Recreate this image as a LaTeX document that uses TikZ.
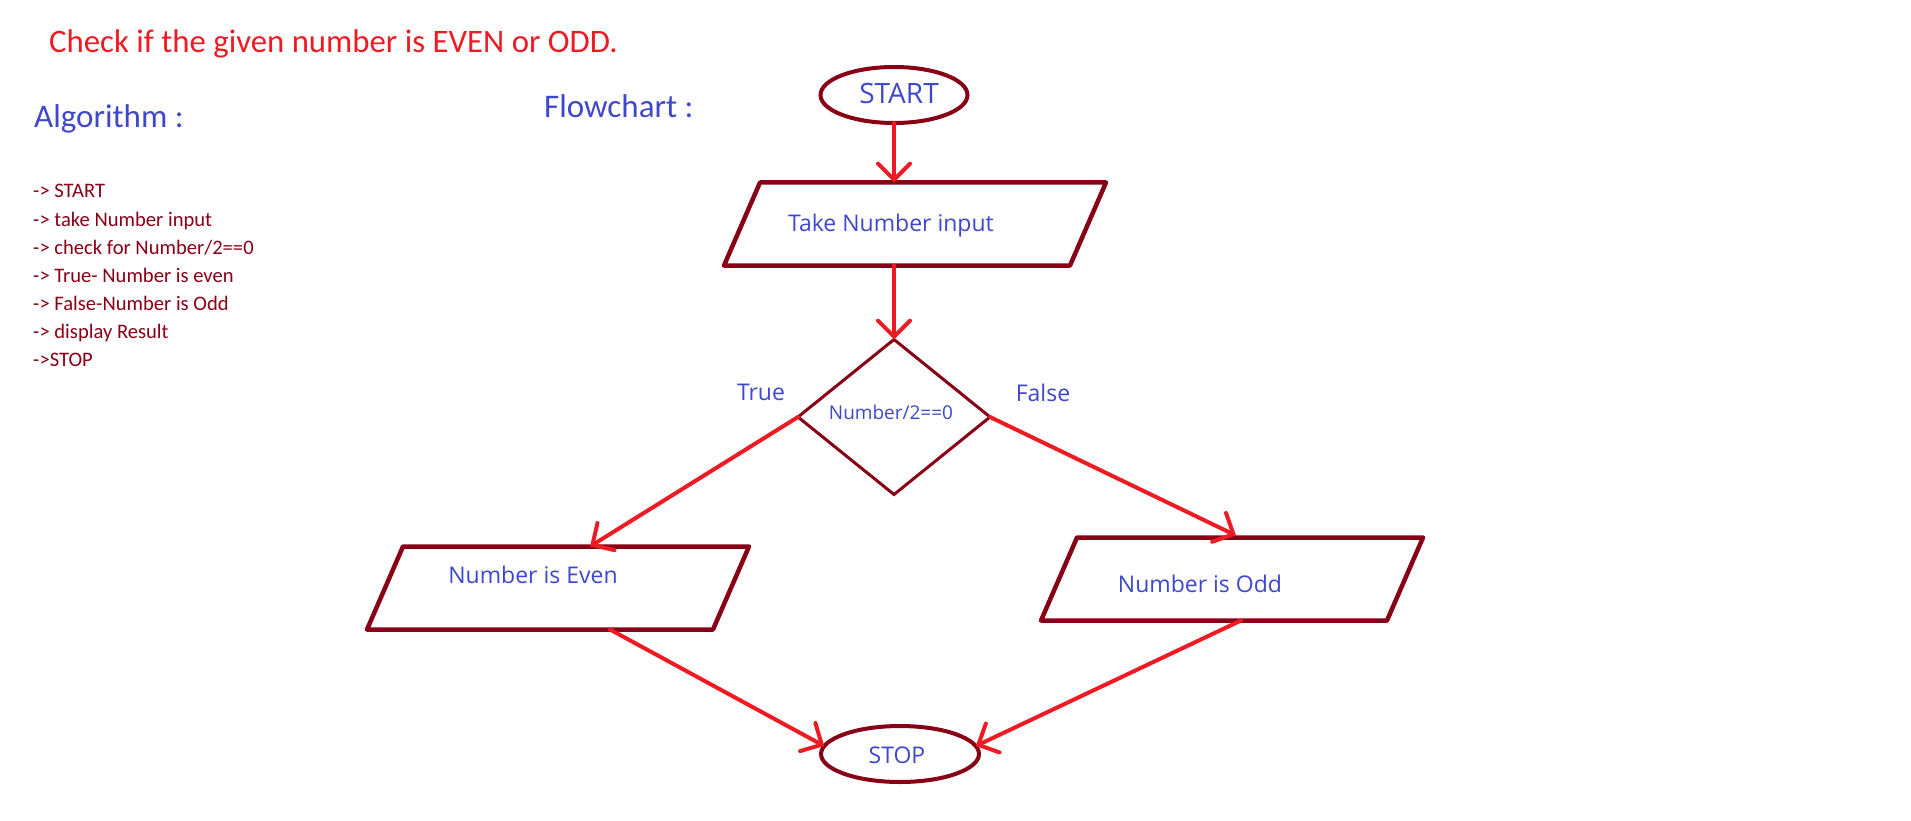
\documentclass[tikz,border=0pt]{standalone}
\usepackage{fontspec}
\setmainfont{Carlito}
\newfontfamily\shapefont{Open Sans}
\usetikzlibrary{shapes.geometric,arrows.meta,calc}
\definecolor{titlered}{RGB}{237,28,36}
\definecolor{shapered}{RGB}{136,0,21}
\definecolor{inkblue}{RGB}{63,72,204}
\begin{document}
\begin{tikzpicture}[x=1pt,y=-1pt,
  iobox/.style={rectangle, minimum width=346pt, minimum height=83pt,
    inner sep=0pt, outer sep=0pt},
  ioline/.style={draw=shapered, line width=4.5pt, line join=round},
  term/.style={ellipse, draw=shapered, line width=4pt, inner sep=0pt, outer sep=0pt},
  test/.style={diamond, draw=shapered, line width=3pt, minimum width=192pt,
    minimum height=155pt, inner sep=0pt, outer sep=0pt},
  arr/.style={draw=titlered, line width=4pt, line cap=round,
    -{Straight Barb[length=16pt,width=32pt,line cap=round]}},
  shapetext/.style={text=inkblue, font=\shapefont\fontsize{23}{28}\selectfont,
    inner sep=0pt, anchor=base},
  heading/.style={text=inkblue, font=\fontsize{33}{40}\selectfont, inner sep=0pt,
    anchor=base west},
  algline/.style={text=shapered, font=\fontsize{20.6}{24}\selectfont, inner sep=0pt,
    anchor=base west}
]
\useasboundingbox (0,0) rectangle (1911,821);
\fill[white] (0,0) rectangle (1911,821);

% headings
\node[heading, text=titlered, font=\fontsize{32.8}{40}\selectfont] (title) at (49,53) {Check if the given number is EVEN or ODD.};
\node[heading] (alghead) at (34,128) {Algorithm :};
\node[heading] (flowhead) at (544,118) {Flowchart :};

% algorithm steps
\foreach \t [count=\i] in {{-> START},{-> take Number input},{-> check for Number/2==0},
  {-> True- Number is even},{-> False-Number is Odd},{-> display Result},{->STOP}}
  \node[algline] (alg\i) at (33,{198+28*(\i-1)}) {\t};

% flowchart shapes
\node[term, minimum width=147pt, minimum height=56pt] (start) at (894,95) {};
\node[iobox] (take) at (915,224) {};
\node[test] (check) at (894,417) {};
\node[iobox] (even) at (558,588) {};
\node[iobox] (odd) at (1232,579) {};
\node[term, minimum width=158pt, minimum height=56pt] (stop) at (900,754) {};
\foreach \b in {take,even,odd}
  \draw[ioline] ($(\b.north west)+(18,0)$) -- ($(\b.north east)+(18,0)$)
    -- ($(\b.south east)-(18,0)$) -- ($(\b.south west)-(18,0)$) -- cycle;

% texts
\node[shapetext, font=\shapefont\fontsize{28}{32}\selectfont] (starttxt) at (899,104) {START};
\node[shapetext] (taketxt) at (891,232) {Take Number input};
\node[shapetext, font=\shapefont\fontsize{19}{22}\selectfont] (checktxt) at (891,419) {Number/2==0};
\node[shapetext] (truetxt) at (761,400) {True};
\node[shapetext] (falsetxt) at (1043,401) {False};
\node[shapetext] (eventxt) at (533,583) {Number is Even};
\node[shapetext] (oddtxt) at (1200,592) {Number is Odd};
\node[shapetext] (stoptxt) at (897,763) {STOP};

% connectors
\draw[arr] (start.south) -- (start.south |- take.north);
\draw[arr] (check.north |- take.south) -- (check.north);
\draw[arr] (check.west) -- ($(even.north)+(32,0)$);
\draw[arr] (check.east) -- ($(odd.north)+(4,-2)$);
\draw[arr] ($(even.south)+(52,0)$) -- (stop.174);
\draw[arr] ($(odd.south)+(9,0)$) -- (stop.6);
\end{tikzpicture}
\end{document}
